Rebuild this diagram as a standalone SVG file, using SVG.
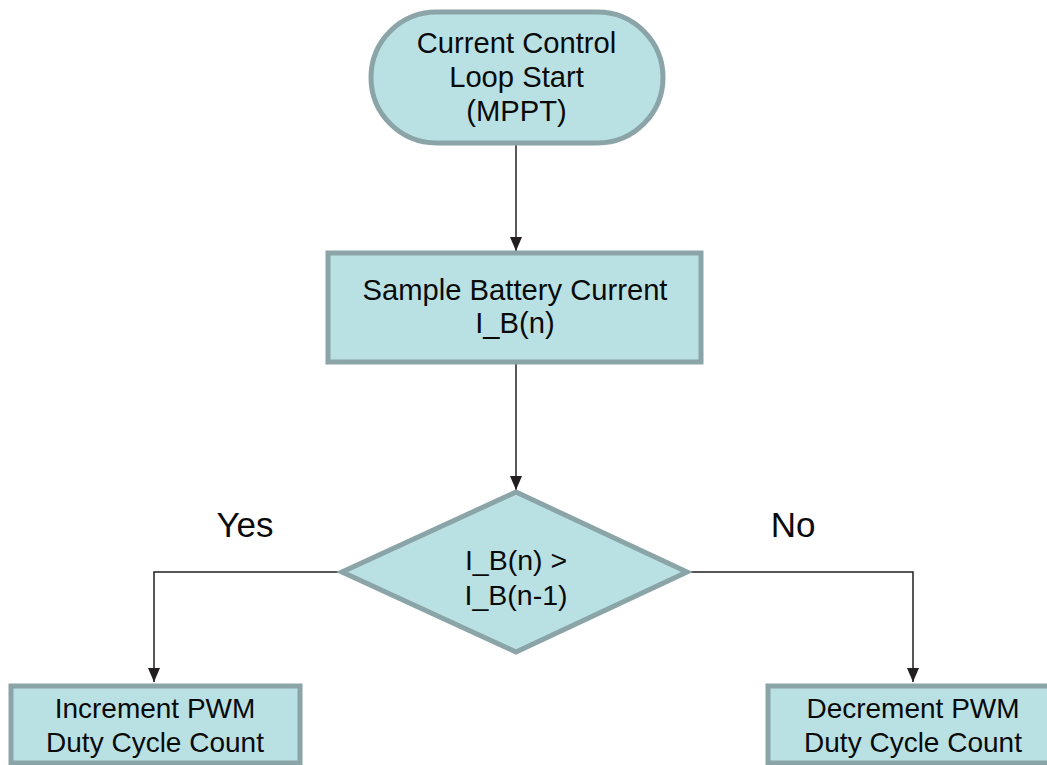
<svg xmlns="http://www.w3.org/2000/svg" width="1047" height="765" viewBox="0 0 1047 765">
<style>
.node{fill:#b9e1e4;stroke:#8aa4a7;stroke-width:5}
.t{font-family:"Liberation Sans",Arial,sans-serif;font-size:28px;fill:#0a0a0a;text-anchor:middle}
.big{font-size:29.2px}
.lbl{font-family:"Liberation Sans",Arial,sans-serif;font-size:35px;fill:#0a0a0a;text-anchor:middle}
.c{fill:none;stroke:#231f20;stroke-width:1.5}
</style>
<defs>
<marker id="arrow" viewBox="0 0 14 12" refX="14" refY="6" markerWidth="14" markerHeight="12" markerUnits="userSpaceOnUse" orient="auto">
<path d="M0,0 L14,6 L0,12 Z" fill="#231f20"/>
</marker>
</defs>
<rect width="1047" height="765" fill="#ffffff"/>
<g id="connectors">
<line class="c" x1="516" y1="144" x2="516" y2="251" marker-end="url(#arrow)"/>
<line class="c" x1="516" y1="364" x2="516" y2="490" marker-end="url(#arrow)"/>
<polyline class="c" points="341,572 154,572 154,682" marker-end="url(#arrow)"/>
<polyline class="c" points="689,572 913,572 913,682" marker-end="url(#arrow)"/>
</g>
<g id="start">
<rect class="node" x="371" y="12" width="292" height="131" rx="65.5" ry="65.5"/>
<text class="t big" x="516.5" y="53">Current Control</text>
<text class="t big" x="516.5" y="87">Loop Start</text>
<text class="t big" x="516.5" y="121">(MPPT)</text>
</g>
<g id="sample">
<rect class="node" x="328" y="253" width="373" height="109"/>
<text class="t big" x="515" y="300">Sample Battery Current</text>
<text class="t big" x="515" y="333">I_B(n)</text>
</g>
<g id="decision">
<polygon class="node" points="516,492 687,572 516,652 342,572"/>
<text class="t" x="516" y="570" style="font-size:28.5px">I_B(n) &gt;</text>
<text class="t" x="516" y="605" style="font-size:28.5px">I_B(n-1)</text>
</g>
<g id="yes-label"><text class="lbl" x="245" y="537">Yes</text></g>
<g id="no-label"><text class="lbl" x="793" y="537">No</text></g>
<g id="increment">
<rect class="node" x="11" y="686" width="289" height="77"/>
<text class="t" x="155" y="718">Increment PWM</text>
<text class="t" x="155" y="752">Duty Cycle Count</text>
</g>
<g id="decrement">
<rect class="node" x="768" y="686" width="300" height="77"/>
<text class="t" x="913" y="718">Decrement PWM</text>
<text class="t" x="913" y="752">Duty Cycle Count</text>
</g>
</svg>
